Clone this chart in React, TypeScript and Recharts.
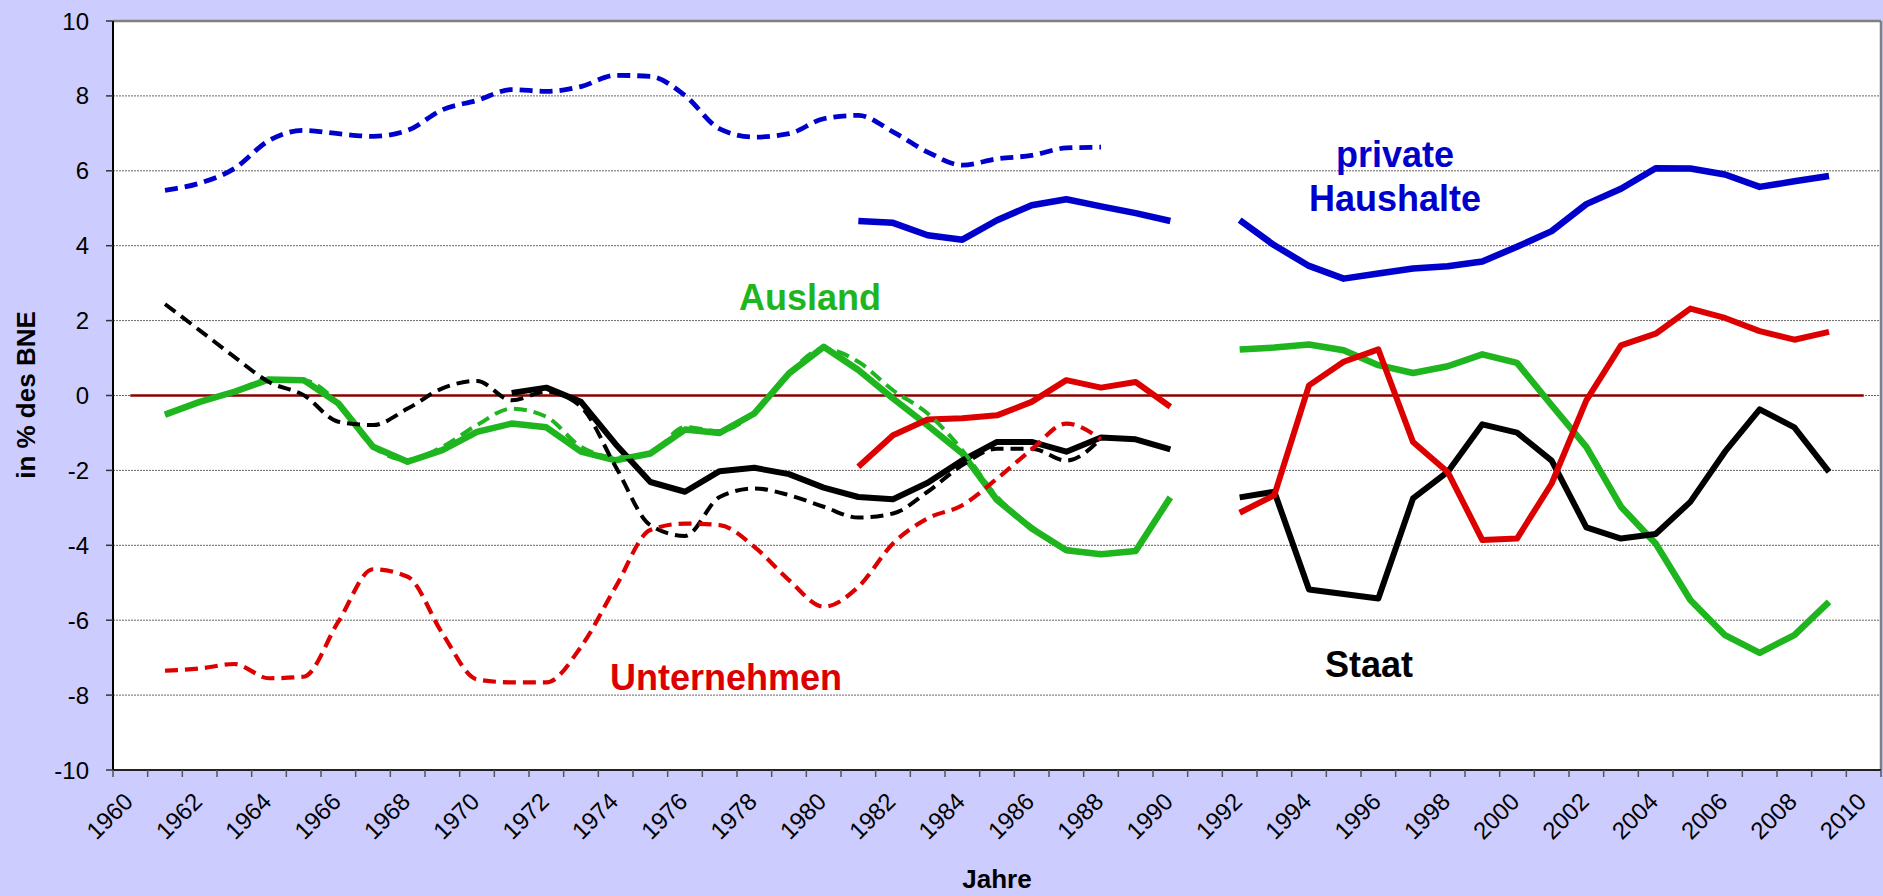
import { LineChart, Line, XAxis, YAxis, CartesianGrid, ReferenceLine } from 'recharts';

// Jahre (Kategorien) und Achsenbeschriftungen
const YEARS = [
  1960, 1961, 1962, 1963, 1964, 1965, 1966, 1967, 1968, 1969,
  1970, 1971, 1972, 1973, 1974, 1975, 1976, 1977, 1978, 1979,
  1980, 1981, 1982, 1983, 1984, 1985, 1986, 1987, 1988, 1989,
  1990, 1991, 1992, 1993, 1994, 1995, 1996, 1997, 1998, 1999,
  2000, 2001, 2002, 2003, 2004, 2005, 2006, 2007, 2008, 2009, 2010,
];
const X_LABELS = [
  '1960', '1962', '1964', '1966', '1968', '1970', '1972', '1974', '1976',
  '1978', '1980', '1982', '1984', '1986', '1988', '1990', '1992', '1994',
  '1996', '1998', '2000', '2002', '2004', '2006', '2008', '2010',
];
const Y_TICKS = [-10, -8, -6, -4, -2, 0, 2, 4, 6, 8, 10];

// private Haushalte
const HH_ALT_START = 1961; // gestrichelt, 1961-1988
const HH_ALT = [5.48, 5.67, 6.06, 6.81, 7.08, 6.99, 6.92, 7.08, 7.63, 7.88, 8.17, 8.12, 8.25, 8.55, 8.52, 8.01, 7.12, 6.9, 6.99, 7.39, 7.48, 7.04, 6.5, 6.15, 6.32, 6.41, 6.61, 6.63];
const HH_NEU_START = 1981; // durchgezogen, 1981-2009
const HH_NEU = [4.66, 4.61, 4.28, 4.16, 4.68, 5.08, 5.24, 5.05, 4.87, 4.66, null, 4.68, 4.01, 3.46, 3.12, 3.26, 3.39, 3.45, 3.58, 3.97, 4.39, 5.11, 5.52, 6.07, 6.06, 5.9, 5.57, 5.72, 5.86];

// Unternehmen
const U_ALT_START = 1961;
const U_ALT = [-7.35, -7.29, -7.17, -7.55, -7.51, -6.04, -4.64, -4.84, -6.35, -7.58, -7.66, -7.66, -6.71, -5.11, -3.59, -3.42, -3.46, -4.04, -4.93, -5.64, -5.11, -3.95, -3.28, -2.93, -2.22, -1.44, -0.75, -1.17];
const U_NEU_START = 1981;
const U_NEU = [-1.9, -1.06, -0.64, -0.61, -0.53, -0.17, 0.41, 0.21, 0.36, -0.3, null, -3.13, -2.66, 0.27, 0.9, 1.23, -1.24, -2.04, -3.86, -3.82, -2.35, -0.13, 1.34, 1.65, 2.32, 2.07, 1.72, 1.49, 1.7];

// Staat
const S_ALT_START = 1961;
const S_ALT = [2.44, 1.74, 1.03, 0.36, 0.01, -0.7, -0.79, -0.35, 0.19, 0.39, -0.13, 0.1, -0.3, -1.9, -3.46, -3.75, -2.71, -2.48, -2.66, -2.97, -3.26, -3.15, -2.57, -1.86, -1.42, -1.42, -1.74, -1.15];
const S_NEU_START = 1971;
const S_NEU = [0.07, 0.21, -0.17, -1.3, -2.31, -2.57, -2.02, -1.93, -2.1, -2.46, -2.71, -2.77, -2.33, -1.73, -1.24, -1.24, -1.5, -1.12, -1.17, -1.44, null, -2.72, -2.57, -5.18, -5.3, -5.42, -2.75, -2.04, -0.77, -0.99, -1.74, -3.52, -3.82, -3.7, -2.84, -1.5, -0.37, -0.85, -2.04];

// Ausland
const A_ALT_START = 1961;
const A_ALT = [-0.51, -0.17, 0.1, 0.43, 0.41, -0.21, -1.37, -1.72, -1.37, -0.79, -0.35, -0.57, -1.37, -1.65, -1.55, -0.84, -0.95, -0.45, 0.6, 1.25, 0.9, 0.14, -0.48, -1.46, -2.7, -3.5, -4.1, -4.2];
const A_NEU_START = 1961;
const A_NEU = [-0.51, -0.17, 0.1, 0.43, 0.41, -0.21, -1.37, -1.77, -1.46, -0.97, -0.75, -0.85, -1.5, -1.73, -1.55, -0.91, -1.0, -0.48, 0.59, 1.3, 0.68, -0.08, -0.8, -1.55, -2.79, -3.55, -4.13, -4.24, -4.15, -2.72, null, 1.23, 1.28, 1.36, 1.21, 0.81, 0.6, 0.78, 1.1, 0.87, -0.26, -1.37, -2.97, -3.95, -5.46, -6.4, -6.87, -6.4, -5.51];

const BLAU = '#0000CC';
const ROT = '#DD0000';
const GRUEN = '#1FB51F';
const FONT = '"Liberation Sans", Arial, sans-serif';

const at = (values: (number | null)[], start: number, year: number) => {
  const i = year - start;
  return i >= 0 && i < values.length ? values[i] : null;
};

const data = YEARS.map((year) => ({
  year,
  hhAlt: at(HH_ALT, HH_ALT_START, year),
  hhNeu: at(HH_NEU, HH_NEU_START, year),
  uAlt: at(U_ALT, U_ALT_START, year),
  uNeu: at(U_NEU, U_NEU_START, year),
  sAlt: at(S_ALT, S_ALT_START, year),
  sNeu: at(S_NEU, S_NEU_START, year),
  aAlt: at(A_ALT, A_ALT_START, year),
  aNeu: at(A_NEU, A_NEU_START, year),
}));

// Teilstriche zwischen den Jahren, Beschriftung in der Mitte
const xTicks = [
  ...YEARS.map((y) => y - 0.5),
  YEARS[YEARS.length - 1] + 0.5,
  ...YEARS.filter((y) => X_LABELS.includes(String(y))),
].sort((a, b) => a - b);

function XTick({ x, y, payload }: any) {
  const v = payload.value;
  if (!Number.isInteger(v)) {
    return <line x1={x} x2={x} y1={y} y2={y + 7} stroke="#555" strokeWidth={1.5} />;
  }
  const label = X_LABELS.find((l) => l === String(v));
  if (!label) return <g />;
  const tx = x + 4;
  const ty = y + 33;
  return (
    <text x={tx} y={ty} transform={`rotate(-45 ${tx} ${ty})`} textAnchor="end" fontSize={24} fontFamily={FONT} fill="#000">
      {label}
    </text>
  );
}

const solid = [
  { key: 'aNeu', color: GRUEN, width: 6.5 },
  { key: 'sNeu', color: '#000', width: 6 },
  { key: 'uNeu', color: ROT, width: 6 },
  { key: 'hhNeu', color: BLAU, width: 6.5 },
];
const dashed = [
  { key: 'aAlt', color: GRUEN, width: 4 },
  { key: 'sAlt', color: '#000', width: 4 },
  { key: 'uAlt', color: ROT, width: 4.2 },
  { key: 'hhAlt', color: BLAU, width: 4.8 },
];

export default function App() {
  return (
    <div style={{ position: 'absolute', left: 0, top: 0, width: 1883, height: 896, background: '#CCCCFF' }}>
      <LineChart width={1883} height={896} data={data} margin={{ top: 21, right: 2, bottom: 0, left: 0 }}>
        <CartesianGrid vertical={false} stroke="#666" strokeDasharray="2 1" fill="#fff" />
        <XAxis
          dataKey="year"
          type="number"
          domain={[1959.5, 2010.5]}
          ticks={xTicks}
          interval={0}
          height={126}
          tickSize={0}
          tickMargin={0}
          tickLine={false}
          axisLine={{ stroke: '#222', strokeWidth: 2 }}
          tick={<XTick />}
        />
        <YAxis
          type="number"
          domain={[-10, 10]}
          ticks={Y_TICKS}
          interval={0}
          width={113}
          tickSize={7}
          tickMargin={17}
          axisLine={{ stroke: '#000', strokeWidth: 2 }}
          tickLine={{ stroke: '#333', strokeWidth: 1.5 }}
          tick={{ fill: '#000', fontSize: 24, fontFamily: FONT }}
        />
        <ReferenceLine y={10} stroke="#808080" strokeWidth={2.5} />
        <ReferenceLine x={2010.5} stroke="#808080" strokeWidth={2.5} />
        <ReferenceLine segment={[{ x: 1960, y: 0 }, { x: 2010, y: 0 }]} stroke="#8B0000" strokeWidth={2.5} />
        {solid.map((s) => (
          <Line key={s.key} type="linear" dataKey={s.key} stroke={s.color} strokeWidth={s.width}
            dot={false} activeDot={false} isAnimationActive={false} strokeLinejoin="round" />
        ))}
        {dashed.map((s) => (
          <Line key={s.key} type="monotone" dataKey={s.key} stroke={s.color} strokeWidth={s.width}
            strokeDasharray="13 7" dot={false} activeDot={false} isAnimationActive={false} />
        ))}
      </LineChart>
      <svg width={1883} height={896} style={{ position: 'absolute', left: 0, top: 0, pointerEvents: 'none' }}
        fontFamily={FONT} fontWeight="bold">
        <text x={35} y={395} transform="rotate(-90 35 395)" textAnchor="middle" fontSize={26} fill="#000">in % des BNE</text>
        <text x={997} y={888} textAnchor="middle" fontSize={26} fill="#000">Jahre</text>
        <text x={1395} y={167} textAnchor="middle" fontSize={36} fill={BLAU}>private</text>
        <text x={1395} y={211} textAnchor="middle" fontSize={36} fill={BLAU}>Haushalte</text>
        <text x={810} y={310} textAnchor="middle" fontSize={36} fill={GRUEN}>Ausland</text>
        <text x={726} y={690} textAnchor="middle" fontSize={36} fill={ROT}>Unternehmen</text>
        <text x={1369} y={677} textAnchor="middle" fontSize={36} fill="#000">Staat</text>
      </svg>
    </div>
  );
}
